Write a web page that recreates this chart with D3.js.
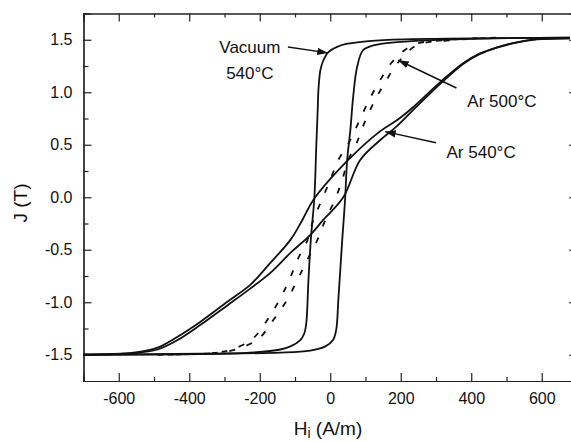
<!DOCTYPE html>
<html>
<meta charset="utf-8">
<head>
<style>
    body { margin: 0; background: #fff; }
    text { font-family: "Liberation Sans", Arial, sans-serif; fill: #111; }
    .axis path, .axis line { stroke: #222; stroke-width: 1.2px; }
    .axis text { font-size: 16px; }
    .loop { fill: none; stroke: #111; stroke-width: 1.8px; stroke-linejoin: round; }
    .dashed { stroke-dasharray: 6, 12; }
    .label { font-size: 17px; }
    .arrow { stroke: #111; stroke-width: 1.5px; }
</style>
</head>
<body>
<div id="viz"></div>
<script src="https://cdnjs.cloudflare.com/ajax/libs/d3/7.8.5/d3.min.js"></script>
<script>
const width = 571;
const height = 442;

// axis ticks
const xMajor = [-600, -400, -200, 0, 200, 400, 600];
const xMinor = [-700, -500, -300, -100, 100, 300, 500, 700];
const yMajor = [-1.5, -1.0, -0.5, 0.0, 0.5, 1.0, 1.5];
const yMinor = [-1.25, -0.75, -0.25, 0.25, 0.75, 1.25];

// Vacuum 540°C, [H (A/m), J (T)]
const vacuumDesc = [[680, 1.52], [330, 1.51], [140, 1.495], [45, 1.46], [18, 1.43], [-6, 1.38], [-20, 1.30],
    [-28, 1.21], [-33, 1.05], [-36, 0.80], [-40, 0.45], [-45, 0.0], [-55, -0.40], [-62, -0.80], [-68, -1.20],
    [-74, -1.30], [-85, -1.36], [-113, -1.42], [-142, -1.45], [-227, -1.48], [-368, -1.495], [-700, -1.50]];
const vacuumAsc = [[-700, -1.50], [-368, -1.49], [-142, -1.48], [-57, -1.46], [-14, -1.42], [8, -1.36], [17, -1.26],
    [23, -0.976], [34, -0.406], [42, -0.026], [48, 0.355], [57, 0.64], [65, 0.955], [76, 1.238], [93, 1.40],
    [122, 1.446], [198, 1.48], [425, 1.51], [680, 1.52]];

// Ar 540°C
const ar540Desc = [[680, 1.514], [586, 1.505], [518, 1.468], [473, 1.427], [425, 1.37], [377, 1.276], [312, 1.096],
    [235, 0.857], [190, 0.735], [142, 0.63], [51, 0.355], [-48, -0.026], [-79, -0.216], [-113, -0.406],
    [-170, -0.625], [-227, -0.834], [-292, -0.995], [-368, -1.185], [-433, -1.328], [-490, -1.432],
    [-558, -1.48], [-700, -1.50]];
const ar540Asc = [[-700, -1.50], [-558, -1.485], [-490, -1.45], [-433, -1.36], [-368, -1.215], [-292, -1.03],
    [-227, -0.87], [-170, -0.72], [-113, -0.53], [-57, -0.36], [-20, -0.216], [37, 0.0], [85, 0.355],
    [142, 0.545], [190, 0.68], [235, 0.83], [312, 1.08], [377, 1.27], [425, 1.365], [473, 1.425],
    [518, 1.466], [586, 1.503], [680, 1.514]];

// Ar 500°C (dashed)
const ar500Desc = [[470, 1.52], [340, 1.50], [235, 1.45], [176, 1.29], [139, 1.10], [110, 0.925], [82, 0.725],
    [54, 0.526], [23, 0.355], [0, 0.165], [-24, -0.026], [-48, -0.216], [-65, -0.41], [-93, -0.596],
    [-116, -0.786], [-144, -0.976], [-178, -1.166], [-221, -1.35], [-280, -1.45], [-323, -1.48],
    [-400, -1.495], [-490, -1.50]];
const ar500Asc = [[-490, -1.50], [-400, -1.495], [-317, -1.48], [-269, -1.45], [-204, -1.35], [-161, -1.166],
    [-122, -0.976], [-93, -0.786], [-65, -0.596], [-37, -0.41], [-14, -0.216], [13, -0.026], [34, 0.165],
    [51, 0.355], [76, 0.526], [99, 0.725], [127, 0.925], [156, 1.096], [193, 1.286], [246, 1.448],
    [340, 1.495], [470, 1.52]];

// annotations: text lines, anchor point (data), arrow tail/tip (data)
const labels = [
    { lines: ["Vacuum", "540°C"], at: [-228, 1.375], tail: [-120, 1.43], tip: [-7, 1.375] },
    { lines: ["Ar 500°C"], at: [487, 0.86], tail: [358, 1.04], tip: [193, 1.305] },
    { lines: ["Ar 540°C"], at: [428, 0.37], tail: [300, 0.52], tip: [156, 0.625] }
];

const x = d3.scaleLinear().domain([-700, 700]).range([83.5, 577]);
const y = d3.scaleLinear().domain([-1.75, 1.75]).range([381, 13.5]);

const svg = d3.select("#viz").append("svg")
    .attr("width", width)
    .attr("height", height);

svg.append("defs").append("marker")
    .attr("id", "head")
    .attr("viewBox", "0 0 10 10")
    .attr("refX", 10).attr("refY", 5)
    .attr("markerWidth", 7).attr("markerHeight", 7)
    .attr("markerUnits", "strokeWidth")
    .attr("orient", "auto")
    .append("path")
    .attr("d", "M0,1.5 L10,5 L0,8.5 z")
    .attr("fill", "#111");

const fmtX = d => String(d);
const fmtY = d => d.toFixed(1);

// bottom / top
svg.append("g").attr("class", "axis").attr("transform", "translate(0," + y(-1.75) + ")")
    .call(d3.axisBottom(x).tickValues(xMajor).tickSize(-8).tickPadding(12).tickFormat(fmtX));
svg.append("g").attr("class", "axis").attr("transform", "translate(0," + y(-1.75) + ")")
    .call(d3.axisBottom(x).tickValues(xMinor).tickSize(-4).tickFormat(""));
svg.append("g").attr("class", "axis").attr("transform", "translate(0," + y(1.75) + ")")
    .call(d3.axisTop(x).tickValues(xMajor).tickSize(-8).tickFormat(""));
svg.append("g").attr("class", "axis").attr("transform", "translate(0," + y(1.75) + ")")
    .call(d3.axisTop(x).tickValues(xMinor).tickSize(-4).tickFormat(""));

// left / right
svg.append("g").attr("class", "axis").attr("transform", "translate(" + x(-700) + ",0)")
    .call(d3.axisLeft(y).tickValues(yMajor).tickSize(-8).tickPadding(11).tickFormat(fmtY));
svg.append("g").attr("class", "axis").attr("transform", "translate(" + x(-700) + ",0)")
    .call(d3.axisLeft(y).tickValues(yMinor).tickSize(-5).tickFormat(""));
svg.append("g").attr("class", "axis").attr("transform", "translate(" + x(700) + ",0)")
    .call(d3.axisRight(y).tickValues(yMajor).tickSize(-8).tickFormat(""));
svg.append("g").attr("class", "axis").attr("transform", "translate(" + x(700) + ",0)")
    .call(d3.axisRight(y).tickValues(yMinor).tickSize(-5).tickFormat(""));

svg.selectAll(".axis .domain").attr("stroke-width", 1.3);

const line = d3.line()
    .x(d => x(d[0]))
    .y(d => y(d[1]))
    .curve(d3.curveCatmullRom.alpha(0.5));

const g = svg.append("g");
[vacuumDesc, vacuumAsc, ar540Desc, ar540Asc].forEach(b => {
    g.append("path").attr("class", "loop").attr("d", line(b));
});
[ar500Desc, ar500Asc].forEach(b => {
    g.append("path").attr("class", "loop dashed").attr("d", line(b));
});

// annotations
labels.forEach(l => {
    const t = svg.append("text")
        .attr("class", "label")
        .attr("text-anchor", "middle")
        .attr("x", x(l.at[0]))
        .attr("y", y(l.at[1]));
    l.lines.forEach((s, i) => {
        t.append("tspan").attr("x", x(l.at[0])).attr("dy", i ? 26 : 0).text(s);
    });
    svg.append("line")
        .attr("class", "arrow")
        .attr("x1", x(l.tail[0])).attr("y1", y(l.tail[1]))
        .attr("x2", x(l.tip[0])).attr("y2", y(l.tip[1]))
        .attr("marker-end", "url(#head)");
});

// axis titles
const xt = svg.append("text")
    .attr("x", 328).attr("y", 435)
    .attr("text-anchor", "middle")
    .style("font-size", "19px");
xt.append("tspan").text("H");
xt.append("tspan").attr("dy", 3).style("font-size", "14px").text("i");
xt.append("tspan").attr("dy", -3).text(" (A/m)");

svg.append("text")
    .attr("transform", "translate(27," + 203 + ") rotate(-90)")
    .attr("text-anchor", "middle")
    .style("font-size", "19px")
    .text("J (T)");
</script>
</body>
</html>
